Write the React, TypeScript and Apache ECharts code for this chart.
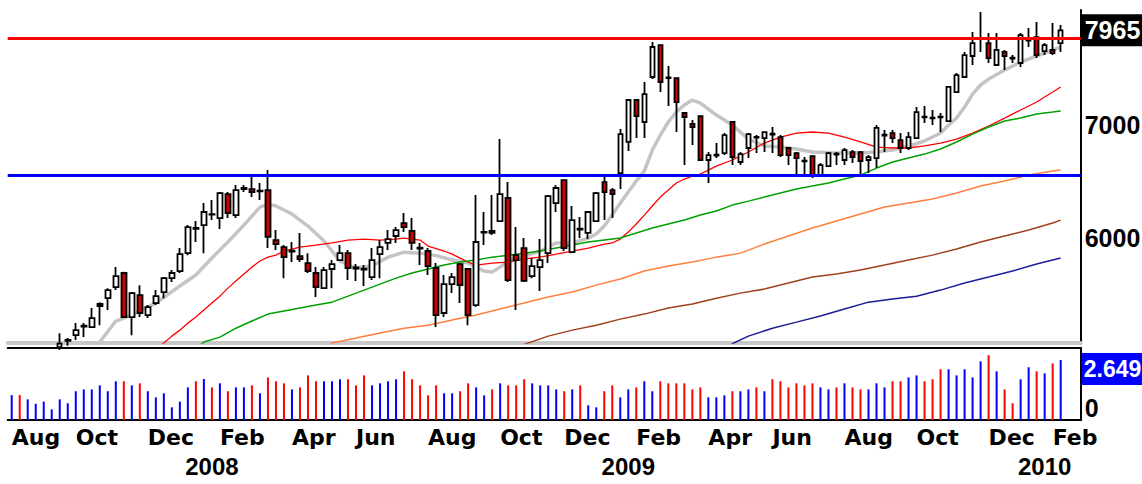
import React, { useEffect, useRef } from 'react';
import * as echarts from 'echarts';

// ---- data (weekly, first bar = week of 3 Aug 2007) ----
const firstWeek = '2007-08-03';
const emptySlots = 2;

const opens = [5080, 5110, 5060, 5100, 5130, 5150, 5170, 5215, 5256, 5318, 5314, 5469, 5528, 5612, 5721, 5387, 5551, 5402, 5491, 5574, 5681, 5736, 5878, 6075, 6107, 6195, 6166, 6371, 6191, 6415, 6415, 6395, 6406, 5984, 5927, 5890, 5854, 5799, 5721, 5604, 5752, 5823, 5878, 5764, 5748, 5689, 5870, 5960, 6017, 6124, 6058, 5915, 5895, 5760, 5417, 5635, 5791, 5752, 5476, 6045, 6058, 6141, 6337, 5862, 5919, 5697, 5767, 5878, 6293, 6494, 5886, 6070, 6042, 6141, 6476, 6406, 6556, 6842, 7243, 7029, 7474, 7807, 7470, 7463, 7116, 7010, 7086, 6674, 6715, 6737, 7029, 6656, 6784, 6880, 6877, 6910, 6886, 6784, 6737, 6668, 6710, 6538, 6619, 6724, 6674, 6747, 6747, 6674, 6692, 6900, 6924, 6858, 6784, 6877, 7080, 7063, 7073, 7038, 7322, 7474, 7691, 7876, 7828, 7597, 7733, 7675, 7618, 7855, 7892, 7743, 7754, 7828];
const highs = [5130, 5120, 5120, 5150, 5170, 5190, 5270, 5236, 5343, 5343, 5454, 5498, 5604, 5767, 5730, 5574, 5627, 5476, 5589, 5689, 5744, 5919, 6107, 6141, 6293, 6319, 6389, 6389, 6450, 6450, 6520, 6468, 6583, 6066, 5943, 5968, 6042, 5878, 5767, 5767, 5823, 5943, 5903, 5791, 5783, 5919, 5984, 6066, 6091, 6208, 6166, 5960, 5919, 5799, 5705, 5721, 5799, 5760, 6363, 6217, 6363, 6867, 6476, 6091, 6000, 5839, 5992, 6363, 6450, 6494, 6268, 6174, 6217, 6389, 6520, 6424, 6962, 7243, 7250, 7423, 7839, 7815, 7586, 7470, 7120, 7048, 7090, 6747, 6830, 6924, 7035, 6747, 6924, 6905, 6933, 6981, 6905, 6793, 6747, 6701, 6715, 6646, 6747, 6747, 6784, 6765, 6756, 6719, 7000, 6953, 6953, 6924, 6933, 7174, 7184, 7145, 7116, 7383, 7514, 7733, 7947, 8167, 7936, 7936, 7754, 7701, 7936, 7991, 8056, 7828, 8045, 8023];
const lows = [5040, 5030, 5040, 5080, 5100, 5120, 5150, 5180, 5221, 5242, 5307, 5328, 5439, 5589, 5380, 5256, 5387, 5380, 5476, 5528, 5651, 5721, 5862, 5968, 5878, 6149, 6074, 6166, 6166, 6389, 6345, 6319, 5919, 5903, 5681, 5807, 5807, 5721, 5536, 5597, 5604, 5823, 5666, 5659, 5620, 5666, 5681, 5903, 5960, 6050, 5903, 5783, 5705, 5314, 5387, 5566, 5491, 5328, 5461, 5943, 6025, 6132, 5651, 5439, 5651, 5681, 5582, 5799, 6217, 5895, 5878, 6000, 5992, 6141, 6149, 6166, 6415, 6756, 6877, 6877, 7453, 7322, 7184, 6933, 6628, 6812, 6665, 6468, 6692, 6719, 6628, 6628, 6692, 6737, 6747, 6737, 6701, 6628, 6538, 6538, 6512, 6520, 6610, 6628, 6628, 6646, 6538, 6556, 6601, 6747, 6830, 6737, 6765, 6877, 7019, 7000, 6933, 7038, 7322, 7474, 7597, 7733, 7618, 7597, 7545, 7618, 7576, 7786, 7670, 7701, 7701, 7733];
const closes = [5110, 5060, 5100, 5130, 5150, 5170, 5195, 5222, 5292, 5325, 5380, 5484, 5589, 5697, 5387, 5566, 5417, 5461, 5543, 5681, 5721, 5870, 6091, 6083, 6217, 6200, 6380, 6208, 6406, 6424, 6389, 6400, 6009, 5951, 5846, 5898, 5831, 5736, 5612, 5744, 5791, 5878, 5760, 5756, 5755, 5823, 5927, 5992, 6066, 6091, 5960, 5922, 5775, 5402, 5635, 5689, 5627, 5402, 5968, 6050, 6042, 6371, 5666, 5823, 5659, 5775, 5823, 6354, 6424, 5919, 6149, 6078, 6217, 6380, 6389, 6371, 6914, 7243, 7086, 7302, 7786, 7423, 7463, 7223, 7077, 6981, 6674, 6719, 6722, 6905, 6701, 6728, 6914, 6888, 6933, 6918, 6719, 6719, 6692, 6662, 6538, 6628, 6737, 6731, 6765, 6701, 6665, 6701, 6972, 6908, 6877, 6784, 6886, 7125, 7073, 7070, 7080, 7373, 7494, 7701, 7828, 7883, 7670, 7754, 7691, 7665, 7914, 7862, 7701, 7807, 7722, 7965];

// volume in millions, and colour of each volume bar (r = red, b = blue)
const volumes = [1.10, 1.10, 0.91, 0.72, 0.81, 0.47, 0.91, 0.74, 1.27, 1.35, 1.35, 1.53, 1.27, 1.71, 1.71, 1.53, 1.62, 1.27, 1.00, 1.18, 0.56, 0.81, 1.44, 1.71, 1.81, 1.44, 1.62, 1.27, 1.44, 1.44, 1.53, 1.18, 1.88, 1.71, 1.62, 1.35, 1.44, 1.97, 1.71, 1.71, 1.71, 1.80, 1.80, 1.53, 1.97, 1.53, 1.62, 1.71, 1.80, 2.15, 1.80, 1.53, 1.09, 1.53, 1.18, 1.18, 1.27, 1.62, 1.44, 1.09, 1.35, 1.62, 1.53, 1.53, 1.80, 1.62, 1.53, 1.53, 1.35, 1.27, 1.35, 1.53, 0.65, 0.56, 1.27, 1.53, 1.00, 1.35, 1.44, 1.71, 1.27, 1.71, 1.62, 1.62, 1.62, 1.35, 1.44, 1.00, 1.00, 1.09, 1.27, 1.27, 1.35, 1.44, 1.27, 1.80, 1.71, 1.44, 1.62, 1.53, 1.62, 1.44, 1.35, 1.44, 1.62, 1.44, 1.35, 1.35, 1.62, 1.44, 1.71, 1.71, 1.88, 1.97, 1.71, 1.80, 2.24, 2.24, 1.97, 2.24, 1.88, 2.59, 2.86, 2.15, 1.35, 0.74, 1.80, 2.33, 2.15, 2.06, 2.50, 2.649];
const volumeColors = ['b', 'r', 'b', 'b', 'b', 'b', 'b', 'b', 'b', 'b', 'b', 'b', 'b', 'b', 'r', 'b', 'r', 'b', 'b', 'b', 'b', 'b', 'b', 'r', 'b', 'r', 'b', 'r', 'b', 'b', 'r', 'b', 'r', 'r', 'r', 'b', 'r', 'r', 'r', 'b', 'b', 'b', 'r', 'r', 'r', 'b', 'b', 'b', 'b', 'r', 'r', 'r', 'r', 'r', 'b', 'b', 'r', 'r', 'b', 'b', 'r', 'b', 'r', 'r', 'r', 'b', 'b', 'b', 'b', 'r', 'b', 'r', 'b', 'b', 'r', 'r', 'b', 'b', 'r', 'b', 'b', 'r', 'r', 'r', 'r', 'r', 'r', 'b', 'b', 'b', 'r', 'b', 'b', 'r', 'b', 'r', 'r', 'r', 'r', 'r', 'r', 'b', 'b', 'r', 'b', 'r', 'r', 'b', 'b', 'b', 'r', 'r', 'b', 'b', 'r', 'r', 'r', 'b', 'b', 'b', 'b', 'b', 'r', 'b', 'r', 'r', 'b', 'b', 'r', 'b', 'r', 'b'];

// moving averages as [week index, value]
const maGrey = [[10, 5150], [11, 5207], [13, 5358], [15, 5402], [18, 5491], [21, 5620], [23, 5705], [25, 5839], [27, 5968], [29, 6107], [31, 6259], [32, 6285], [33, 6268], [35, 6200], [37, 6099], [39, 5976], [41, 5815], [43, 5760], [45, 5775], [47, 5846], [49, 5886], [51, 5878], [53, 5858], [55, 5823], [57, 5799], [59, 5736], [60, 5728], [61, 5767], [62, 5815], [64, 5854], [66, 5895], [68, 5960], [70, 5960], [72, 6000], [73, 6033], [74, 6099], [75, 6191], [76, 6293], [77, 6389], [78, 6485], [79, 6574], [80, 6765], [81, 6905], [82, 7029], [83, 7125], [84, 7194], [85, 7243], [86, 7213], [88, 7096], [90, 7000], [92, 6867], [94, 6803], [96, 6793], [98, 6775], [100, 6747], [103, 6737], [106, 6737], [108, 6747], [110, 6765], [112, 6803], [114, 6849], [116, 6924], [117, 7000], [118, 7067], [119, 7174], [120, 7302], [121, 7393], [122, 7453], [124, 7545], [126, 7628], [128, 7691], [130, 7754], [131, 7786]];
const maRed = [[18, 5160], [19, 5200], [20, 5249], [21, 5292], [22, 5343], [23, 5387], [24, 5439], [25, 5491], [26, 5543], [27, 5604], [28, 5658], [29, 5713], [30, 5767], [31, 5815], [32, 5846], [33, 5862], [34, 5895], [36, 5927], [38, 5943], [40, 5960], [42, 5984], [44, 5992], [46, 5984], [48, 5992], [49, 6000], [51, 5984], [52, 5935], [54, 5895], [55, 5870], [57, 5807], [58, 5783], [60, 5799], [62, 5807], [64, 5831], [66, 5846], [68, 5870], [70, 5895], [72, 5919], [74, 5951], [75, 5960], [76, 5992], [77, 6050], [78, 6116], [79, 6191], [80, 6268], [81, 6345], [82, 6406], [83, 6468], [84, 6503], [85, 6529], [86, 6547], [88, 6619], [90, 6674], [92, 6747], [94, 6830], [96, 6886], [98, 6924], [100, 6934], [102, 6924], [104, 6886], [106, 6840], [108, 6793], [110, 6784], [112, 6784], [114, 6803], [116, 6830], [118, 6867], [120, 6924], [122, 6991], [124, 7067], [126, 7145], [128, 7223], [130, 7322], [131, 7373]];
const maGreen = [[23, 5160], [24, 5207], [26, 5242], [28, 5306], [30, 5358], [32, 5409], [34, 5432], [36, 5454], [38, 5476], [40, 5498], [42, 5543], [44, 5589], [46, 5635], [48, 5681], [50, 5721], [52, 5752], [54, 5783], [56, 5807], [58, 5823], [60, 5846], [62, 5862], [64, 5878], [66, 5895], [68, 5919], [70, 5943], [72, 5968], [74, 5984], [76, 6000], [78, 6042], [80, 6083], [82, 6116], [84, 6149], [86, 6191], [88, 6225], [90, 6276], [92, 6310], [94, 6345], [96, 6380], [98, 6415], [100, 6441], [102, 6468], [104, 6503], [106, 6538], [108, 6601], [110, 6656], [112, 6692], [114, 6728], [116, 6775], [118, 6840], [120, 6914], [122, 6981], [124, 7038], [126, 7067], [128, 7106], [130, 7125], [131, 7135]];
const maOrange = [[39, 5150], [40, 5200], [43, 5235], [46, 5271], [49, 5306], [52, 5328], [55, 5365], [58, 5402], [61, 5447], [64, 5491], [67, 5536], [70, 5574], [73, 5627], [76, 5674], [79, 5736], [82, 5775], [85, 5807], [88, 5846], [91, 5878], [94, 5951], [97, 6017], [100, 6083], [103, 6141], [106, 6200], [109, 6259], [112, 6293], [115, 6328], [118, 6380], [121, 6441], [124, 6485], [127, 6538], [130, 6574], [131, 6583]];
const maBrown = [[63, 5150], [64, 5190], [67, 5249], [70, 5292], [73, 5328], [76, 5372], [79, 5409], [82, 5454], [85, 5484], [88, 5528], [91, 5566], [94, 5597], [97, 5643], [100, 5689], [103, 5713], [106, 5744], [109, 5783], [112, 5823], [115, 5862], [118, 5911], [121, 5968], [124, 6017], [127, 6066], [130, 6124], [131, 6149]];
const maNavy = [[89, 5150], [90, 5195], [92, 5249], [95, 5306], [98, 5350], [101, 5395], [104, 5447], [107, 5498], [110, 5521], [113, 5543], [116, 5589], [119, 5643], [122, 5689], [125, 5736], [128, 5791], [131, 5839]];

const monthTicks: [number, string][] = [[0, 'Aug'], [8, 'Oct'], [17, 'Dec'], [26, 'Feb'], [35, 'Apr'], [43, 'Jun'], [52, 'Aug'], [61, 'Oct'], [69, 'Dec'], [78, 'Feb'], [87, 'Apr'], [95, 'Jun'], [104, 'Aug'], [113, 'Oct'], [122, 'Dec'], [130, 'Feb']];
const yearTicks: [number, string][] = [[25, '2008'], [77, '2009'], [129, '2010']];
const priceTicks = [6000, 7000];
const resistanceLevel = 7880;
const supportLevel = 6540;
const priceMin = 5200;
const priceMax = 8189;
const volumeMax = 3.18;

const digitFont = '"Liberation Sans", Arial, sans-serif';
const monthFont = '"DejaVu Sans", Verdana, sans-serif';

export default function App() {
  const ref = useRef<HTMLDivElement>(null);

  useEffect(() => {
    const chart = echarts.init(ref.current!, null, { renderer: 'svg' });
    const n = closes.length + emptySlots;
    const categories: string[] = [];
    const t0 = new Date(firstWeek + 'T00:00:00Z').getTime();
    for (let i = 0; i < n; i++) {
      categories.push(new Date(t0 + i * 7 * 86400000).toISOString().slice(0, 10));
    }
    const candleData = opens.map((o, i) => [o, closes[i], lows[i], highs[i]]);
    const monthMap = new Map(monthTicks);
    const yearMap = new Map(yearTicks);
    const lastClose = closes[closes.length - 1];
    const lastVol = volumes[volumes.length - 1];

    const ma = (data: number[][], color: string, width: number, z = 2) => ({
      type: 'line',
      xAxisIndex: 0,
      yAxisIndex: 0,
      data,
      symbol: 'none',
      silent: true,
      z,
      clip: true,
      lineStyle: { color, width },
    });

    const priceLabel = {
      show: true,
      position: 'end',
      distance: 4,
      color: '#000',
      opacity: 1,
      fontFamily: digitFont,
      fontWeight: 'bold',
      fontSize: 25,
    };
    const hiddenLine = { color: 'rgba(255,255,255,0)', width: 0, opacity: 1, type: 'solid' };

    const gridLeft = 7.7;
    const gridWidth = 1073;

    chart.setOption({
      animation: false,
      backgroundColor: '#ffffff',
      grid: [
        { left: gridLeft, width: gridWidth, top: 10, height: 333 },
        { left: gridLeft, width: gridWidth, top: 348, height: 72 },
      ],
      xAxis: [
        {
          type: 'category', gridIndex: 0, data: categories,
          axisLine: { show: true, lineStyle: { color: '#c8c8c8', width: 4 } },
          axisTick: { show: false }, axisLabel: { show: false }, splitLine: { show: false },
        },
        {
          type: 'category', gridIndex: 1, data: categories,
          axisLine: { show: true, lineStyle: { color: '#000', width: 2 } },
          axisTick: { show: false },
          axisLabel: {
            show: true,
            interval: (i: number) => monthMap.has(i),
            formatter: (_v: string, i: number) => monthMap.get(i) ?? '',
            align: 'left', margin: 6, color: '#000',
            fontFamily: monthFont, fontWeight: 'bold', fontSize: 22,
          },
          splitLine: { show: false },
        },
        {
          type: 'category', gridIndex: 1, data: categories, position: 'bottom', offset: 30,
          axisLine: { show: false }, axisTick: { show: false },
          axisLabel: {
            show: true,
            interval: (i: number) => yearMap.has(i),
            formatter: (_v: string, i: number) => yearMap.get(i) ?? '',
            align: 'center', margin: 4, color: '#000',
            fontFamily: digitFont, fontWeight: 'bold', fontSize: 24,
          },
          splitLine: { show: false },
        },
        {
          type: 'category', gridIndex: 1, data: categories, position: 'top',
          axisLine: { show: true, lineStyle: { color: '#000', width: 2 } },
          axisTick: { show: false }, axisLabel: { show: false }, splitLine: { show: false },
        },
      ],
      yAxis: [
        {
          type: 'log', logBase: 10, gridIndex: 0, position: 'right', min: priceMin, max: priceMax,
          axisLine: { show: true, lineStyle: { color: '#000', width: 2 } },
          axisTick: { show: false }, axisLabel: { show: false }, splitLine: { show: false },
        },
        {
          type: 'value', gridIndex: 1, position: 'right', min: 0, max: volumeMax, interval: volumeMax,
          axisLine: { show: true, lineStyle: { color: '#000', width: 2 } },
          axisTick: { show: false },
          axisLabel: {
            show: true,
            formatter: (v: number) => (v === 0 ? '0' : ''),
            verticalAlign: 'bottom', margin: 4, color: '#000',
            fontFamily: digitFont, fontWeight: 'bold', fontSize: 25,
          },
          splitLine: { show: false },
        },
      ],
      series: [
        {
          type: 'line', xAxisIndex: 0, yAxisIndex: 0, data: [], z: 1, silent: true,
          markLine: {
            silent: true, symbol: 'none', animation: false,
            data: [
              { yAxis: resistanceLevel, lineStyle: { color: '#ff0000', width: 3, type: 'solid' }, label: { show: false } },
              { yAxis: supportLevel, lineStyle: { color: '#0000ff', width: 3, type: 'solid' }, label: { show: false } },
            ],
          },
        },
        ma(maGrey, '#c4c4c4', 3.5),
        ma(maRed, '#ff0000', 1.3),
        ma(maGreen, '#00a000', 1.5),
        ma(maOrange, '#ff7f3f', 1.5),
        ma(maBrown, '#a0401c', 1.5),
        ma(maNavy, '#1c1c96', 1.5),
        {
          type: 'candlestick', xAxisIndex: 0, yAxisIndex: 0, data: candleData,
          barWidth: 5, z: 4, silent: true, clip: true,
          itemStyle: { color: '#ffffff', color0: '#cc0000', borderColor: '#000', borderColor0: '#000', borderWidth: 1.8 },
        },
        {
          type: 'line', xAxisIndex: 0, yAxisIndex: 0, data: [], z: 6, silent: true, clip: false,
          markLine: {
            silent: true, symbol: 'none', animation: false,
            lineStyle: hiddenLine,
            data: [
              ...priceTicks.map((p) => ({ yAxis: p, lineStyle: hiddenLine, label: { ...priceLabel, formatter: String(p) } })),
              {
                yAxis: lastClose,
                lineStyle: hiddenLine,
                label: { ...priceLabel, distance: 1, formatter: String(lastClose), color: '#fff', backgroundColor: '#000', padding: [4, 4, 3, 3] },
              },
            ],
          },
        },
        {
          type: 'bar', xAxisIndex: 1, yAxisIndex: 1, barWidth: 2, silent: true, clip: false,
          data: volumes.map((v, i) => ({ value: v, itemStyle: { color: volumeColors[i] === 'r' ? '#ff0000' : '#0000ff' } })),
          markLine: {
            silent: true, symbol: 'none', animation: false,
            lineStyle: hiddenLine,
            data: [
              {
                yAxis: lastVol,
                lineStyle: hiddenLine,
                label: { ...priceLabel, fontSize: 23, distance: 1, offset: [0, 9], formatter: String(lastVol), color: '#fff', backgroundColor: '#0000ff', padding: [5, 2, 4, 2] },
              },
            ],
          },
        },
      ],
    });
    return () => chart.dispose();
  }, []);

  return (
    <div
      ref={ref}
      style={{ position: 'fixed', left: 0, top: 0, width: 1142, height: 484, background: '#fff' }}
    />
  );
}
